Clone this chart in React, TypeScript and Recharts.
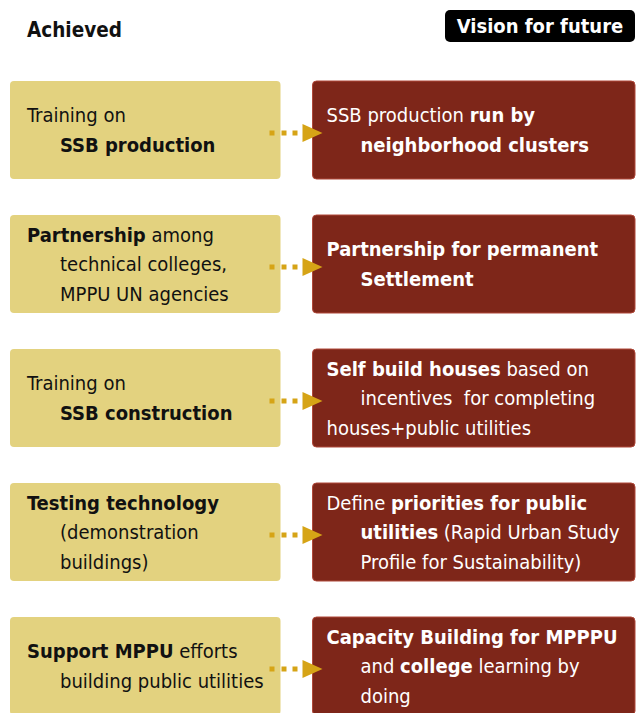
import { BarChart, Bar, XAxis, YAxis } from 'recharts'

// one row per step, each step counts once in both columns
const steps = ['step1', 'step2', 'step3', 'step4', 'step5']
const achievedShare = [1, 1, 1, 1, 1]
const visionShare = [1, 1, 1, 1, 1]

// ">" = indented line, **...** = bold
const achievedLines = [
  ['Training on', '>**SSB production**'],
  ['**Partnership** among', '>technical colleges,', '>MPPU UN agencies'],
  ['Training on', '>**SSB construction**'],
  ['**Testing technology**', '>(demonstration', '>buildings)'],
  ['**Support MPPU** efforts', '>building public utilities'],
]
const visionLines = [
  ['SSB production **run by**', '>**neighborhood clusters**'],
  ['**Partnership for permanent**', '>**Settlement**'],
  ['**Self build houses** based on', '>incentives  for completing', 'houses+public utilities'],
  ['Define **priorities for public**', '>**utilities** (Rapid Urban Study', '>Profile for Sustainability)'],
  ['**Capacity Building for MPPPU**', '>and **college** learning by', '>doing'],
]

const FONT = "'DejaVu Sans Condensed', 'DejaVu Sans', sans-serif"
const LINE_H = 29.5

const data = steps.map((s, i) => ({
  step: s,
  achieved: achievedShare[i],
  vision: visionShare[i],
}))

function Lines({ lines, x, cy, indent, color }: { lines: string[]; x: number; cy: number; indent: number; color: string }) {
  return (
    <>
      {lines.map((raw, i) => {
        const ind = raw.startsWith('>')
        const parts = (ind ? raw.slice(1) : raw).split('**')
        const y = cy + (i - (lines.length - 1) / 2) * LINE_H
        return (
          <text
            key={i}
            x={ind ? x + indent : x}
            y={y}
            dy="0.36em"
            fill={color}
            fontSize={20}
            fontFamily={FONT}
            style={{ whiteSpace: 'pre', fontStretch: 'condensed' }}
          >
            {parts.map((p, j) => (
              <tspan key={j} fontWeight={j % 2 ? 'bold' : 'normal'}>
                {p}
              </tspan>
            ))}
          </text>
        )
      })}
    </>
  )
}

function AchievedBox(props: any) {
  const { x, y, width, height, index } = props
  return (
    <g>
      <rect x={x} y={y} width={width - 42} height={height} rx={4} fill="#E3D27F" />
      <Lines lines={achievedLines[index]} x={x + 17} cy={y + height / 2} indent={33} color="#111" />
    </g>
  )
}

function VisionBox(props: any) {
  const { x, y, width, height, index } = props
  const left = x - 10
  const cy = y + height / 2 + 3
  return (
    <g>
      <rect x={left} y={y} width={width + 10} height={height} rx={4} fill="#7E2619" stroke="#B0483A" strokeWidth={1} />
      <rect x={left - 43} y={cy - 2.5} width={5} height={5} fill="#D6A416" />
      <rect x={left - 31} y={cy - 2.5} width={5} height={5} fill="#D6A416" />
      <rect x={left - 20} y={cy - 2.5} width={5} height={5} fill="#D6A416" />
      <polygon points={`${left - 10},${cy - 9} ${left - 10},${cy + 9} ${left + 10},${cy}`} fill="#D6A416" />
      <Lines lines={visionLines[index]} x={left + 14} cy={y + height / 2} indent={34} color="#fff" />
    </g>
  )
}

export default function App() {
  return (
    <div style={{ position: 'absolute', left: 0, top: 0, width: 640, height: 740, background: '#fff', fontFamily: FONT }}>
      <div style={{ position: 'absolute', left: 27, top: 15, fontSize: 20.5, fontWeight: 'bold', lineHeight: '30px', fontStretch: 'condensed', color: '#111' }}>
        Achieved
      </div>
      <div
        style={{
          position: 'absolute', left: 445, top: 10, width: 190, height: 32, background: '#000', borderRadius: 5,
          color: '#fff', fontSize: 20, fontWeight: 'bold', lineHeight: '32px', textAlign: 'center', fontStretch: 'condensed',
        }}
      >
        Vision for future
      </div>
      <BarChart
        width={640}
        height={740}
        data={data}
        layout="vertical"
        margin={{ top: 63, right: 5, bottom: 7, left: 10 }}
        barSize={98}
      >
        <XAxis type="number" domain={[0, 2]} hide />
        <YAxis type="category" dataKey="step" hide />
        <Bar dataKey="achieved" stackId="a" shape={AchievedBox} isAnimationActive={false} />
        <Bar dataKey="vision" stackId="a" shape={VisionBox} isAnimationActive={false} />
      </BarChart>
    </div>
  )
}
